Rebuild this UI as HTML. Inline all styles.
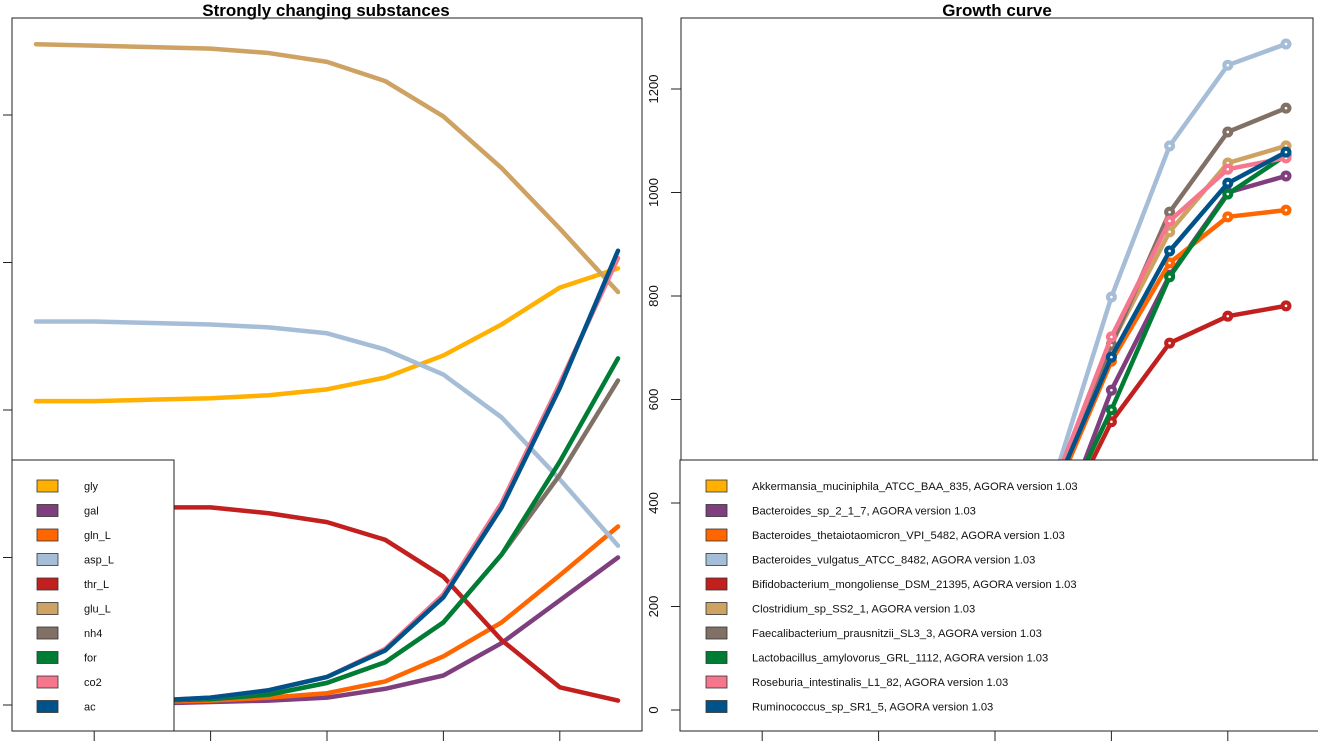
<!DOCTYPE html>
<html><head><meta charset="utf-8"><style>
html,body{margin:0;padding:0;background:#fff;width:1318px;height:746px;overflow:hidden}
svg{display:block;font-family:"Liberation Sans",Arial,sans-serif}
</style></head><body>
<svg id="chart" width="1318" height="746" viewBox="0 0 1318 746">
<text x="326" y="16" text-anchor="middle" font-weight="bold" font-size="17">Strongly changing substances</text>
<text x="997" y="16" text-anchor="middle" font-weight="bold" font-size="17">Growth curve</text>
<g id="left"></g>
<g id="right"></g>
</svg>
<script>
const NS="http://www.w3.org/2000/svg";
// ---- Left chart data ----
const leftNames=["gly","gal","gln_L","asp_L","thr_L","glu_L","nh4","for","co2","ac"];
const leftColors=["#FFB000","#7F3F7F","#FF6600","#A6BDD7","#C1201F","#CEA262","#817066","#007D34","#F6768E","#00538A"];
const glyVals=[2.06,2.06,2.07,2.08,2.10,2.14,2.22,2.37,2.58,2.83,2.96];
const galVals=[0.00,0.00,0.01,0.02,0.03,0.05,0.11,0.20,0.42,0.71,1.00];
const glnVals=[0.00,0.01,0.02,0.03,0.05,0.08,0.16,0.33,0.56,0.88,1.21];
const aspVals=[2.60,2.60,2.59,2.58,2.56,2.52,2.41,2.24,1.95,1.53,1.08];
const thrVals=[1.34,1.34,1.34,1.34,1.30,1.24,1.12,0.87,0.44,0.12,0.03];
const gluVals=[4.48,4.47,4.46,4.45,4.42,4.36,4.23,3.99,3.64,3.23,2.80];
const nh4Vals=[0.01,0.02,0.03,0.04,0.07,0.15,0.29,0.56,1.02,1.56,2.20];
const forVals=[0.01,0.02,0.03,0.04,0.07,0.15,0.29,0.56,1.02,1.65,2.35];
const co2Vals=[0.01,0.02,0.03,0.05,0.10,0.19,0.38,0.75,1.37,2.18,3.03];
const acVals=[0.01,0.02,0.03,0.05,0.10,0.19,0.37,0.73,1.34,2.15,3.08];
const leftSeries=[glyVals,galVals,glnVals,aspVals,thrVals,gluVals,nh4Vals,forVals,co2Vals,acVals];
const leftYTicks=[0,1,2,3,4];
const xTicks=[1,3,5,7,9];
// ---- Right chart data ----
const rightNames=["Akkermansia_muciniphila_ATCC_BAA_835, AGORA version 1.03","Bacteroides_sp_2_1_7, AGORA version 1.03","Bacteroides_thetaiotaomicron_VPI_5482, AGORA version 1.03","Bacteroides_vulgatus_ATCC_8482, AGORA version 1.03","Bifidobacterium_mongoliense_DSM_21395, AGORA version 1.03","Clostridium_sp_SS2_1, AGORA version 1.03","Faecalibacterium_prausnitzii_SL3_3, AGORA version 1.03","Lactobacillus_amylovorus_GRL_1112, AGORA version 1.03","Roseburia_intestinalis_L1_82, AGORA version 1.03","Ruminococcus_sp_SR1_5, AGORA version 1.03"];
const akkVals=[1,1,2,3,5,8,12,18,25,33,40];
const bsp2Vals=[1,2,6,14,35,90,320,618,840,1000,1032];
const btheVals=[1,3,8,20,50,130,410,674,864,953,966];
const bvulVals=[2,4,10,25,60,150,440,798,1090,1246,1287];
const bifVals=[1,2,6,14,35,95,330,557,709,761,781];
const closVals=[1,3,8,20,50,130,420,708,924,1057,1090];
const faecVals=[1,3,8,20,50,130,425,705,962,1117,1163];
const lactVals=[1,2,6,14,35,95,345,580,837,997,1072];
const rosVals=[1,3,8,20,52,135,430,721,945,1045,1067];
const rumVals=[1,3,8,20,50,130,420,682,887,1018,1078];
const rightSeries=[akkVals,bsp2Vals,btheVals,bvulVals,bifVals,closVals,faecVals,lactVals,rosVals,rumVals];
const rightYTicks=[0,200,400,600,800,1000,1200];

function el(tag,attrs,parent){const e=document.createElementNS(NS,tag);for(const k in attrs)e.setAttribute(k,attrs[k]);parent.appendChild(e);return e;}

// Left axes
const L=document.getElementById('left');
const lx=i=>36+58.2*i;
const ly=v=>705-147.5*v;
leftSeries.forEach((vals,si)=>{
  const pts=vals.map((v,i)=>lx(i)+","+ly(v)).join(" ");
  const p=el('polyline',{points:pts,fill:"none",stroke:leftColors[si],"stroke-width":4.5,"stroke-linejoin":"round","stroke-linecap":"round"},L);
  
  
});
el('rect',{x:12,y:18,width:630,height:713,fill:"none",stroke:"#222","stroke-width":1},L);
leftYTicks.forEach(t=>{const tk=el('line',{x1:3,x2:12,y1:ly(t),y2:ly(t),stroke:"#222"},L);

});
xTicks.forEach(t=>{const tk=el('line',{x1:lx(t),x2:lx(t),y1:731,y2:741,stroke:"#222"},L);

});
// left legend
const lg=el('g',{},L);


el('rect',{x:12,y:460,width:162,height:271,fill:"#fff",stroke:"#222"},lg);
leftNames.forEach((n,i)=>{const y=486+24.5*i;
 const g=el('g',{},lg);
 
 
 el('rect',{x:37,y:y-6,width:21,height:12,fill:leftColors[i],stroke:"#333","stroke-width":0.8},g);
 const t=el('text',{x:84,y:y+4,"font-size":11,fill:"#111"},g);t.textContent=n;});

// Right axes
const R=document.getElementById('right');
const rx=i=>704+58.2*i;
const ry=v=>710-0.5175*v;
rightSeries.forEach((vals,si)=>{
  const g=el('g',{},R);
  
  
  el('polyline',{points:vals.map((v,i)=>rx(i)+","+ry(v)).join(" "),fill:"none",stroke:leftColors[si],"stroke-width":4.5,"stroke-linejoin":"round"},g);
  vals.forEach((v,i)=>{const c=el('circle',{cx:rx(i),cy:ry(v),r:5.5,fill:leftColors[si]},g);
   
   
   el('circle',{cx:rx(i),cy:ry(v),r:1.3,fill:"#fff"},g);});
});
el('rect',{x:681,y:18,width:632,height:713,fill:"none",stroke:"#222","stroke-width":1},R);
rightYTicks.forEach(t=>{const tk=el('line',{x1:671,x2:681,y1:ry(t),y2:ry(t),stroke:"#222"},R);
 
 
 const tx=el('text',{x:0,y:0,"font-size":13,"text-anchor":"middle",transform:`translate(658,${ry(t)}) rotate(-90)`,fill:"#111"},R);
 
 
 tx.textContent=t;});
xTicks.forEach(t=>{const tk=el('line',{x1:rx(t),x2:rx(t),y1:731,y2:741,stroke:"#222"},R);

});
const rg=el('g',{},R);


el('rect',{x:680,y:460,width:645,height:271,fill:"#fff",stroke:"#222"},rg);
rightNames.forEach((n,i)=>{const y=486+24.5*i;
 const g=el('g',{},rg);
 
 
 el('rect',{x:706,y:y-6,width:21,height:12,fill:leftColors[i],stroke:"#333","stroke-width":0.8},g);
 const t=el('text',{x:752,y:y+4,"font-size":11.2,fill:"#111"},g);t.textContent=n;});
</script>
</body></html>
